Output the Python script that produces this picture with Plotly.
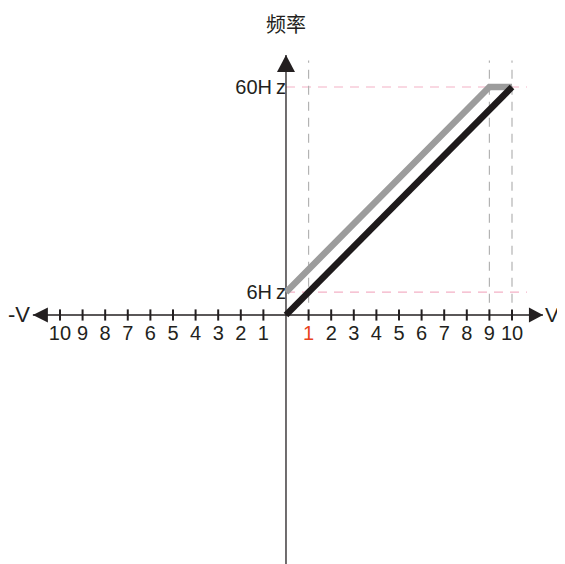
import plotly.graph_objects as go

# chart values
volt_black = [0, 10]
freq_black = [0, 60]
volt_gray = [0, 9, 10]
freq_gray = [6, 60, 60]

freq_marks = [6, 60]
freq_labels = ["6H\u2009z", "60H\u2009z"]
volt_marks = [1, 9, 10]

x_tick_vals = [-10, -9, -8, -7, -6, -5, -4, -3, -2, -1, 1, 2, 3, 4, 5, 6, 7, 8, 9, 10]
x_tick_text = ["10", "9", "8", "7", "6", "5", "4", "3", "2", "1",
               "<span style='color:#e8431c'>1</span>", "2", "3", "4", "5", "6", "7", "8", "9", "10"]

title_text = "频率"
neg_label = "-V"
pos_label = "V"

# page body has an 8px margin, so the figure is a bit smaller than the window
W, H = 557, 556
X_RANGE = [-12.30, 12.345]
Y_RANGE = [-65.53, 80.79]
AX_X = [-11.2, 11.37]
AX_Y = [Y_RANGE[0], 68.4]
AXIS_COL = "#231f20"
FONT = "Liberation Sans, Arial, sans-serif"

fig = go.Figure()

# guide lines
for f in freq_marks:
    fig.add_shape(type="line", x0=0, x1=10.66, y0=f, y1=f,
                  line=dict(color="#f4b1c6", width=1.2, dash="9px,7px"), layer="below")
for v in volt_marks:
    fig.add_shape(type="line", x0=v, x1=v, y0=3.2, y1=67,
                  line=dict(color="#b3b3b3", width=1.2, dash="9px,7px"), layer="below")

# axes lines
fig.add_trace(go.Scatter(x=AX_X, y=[0, 0], mode="lines",
                         line=dict(color=AXIS_COL, width=1.3), hoverinfo="skip"))
fig.add_trace(go.Scatter(x=[0, 0], y=AX_Y, mode="lines",
                         line=dict(color=AXIS_COL, width=1.3), hoverinfo="skip"))
fig.add_trace(go.Scatter(x=x_tick_vals, y=[0] * len(x_tick_vals), mode="markers",
                         marker=dict(symbol="line-ns", size=8,
                                     line=dict(color=AXIS_COL, width=2)),
                         hoverinfo="skip"))

# data lines
fig.add_trace(go.Scatter(x=volt_gray, y=freq_gray, mode="lines",
                         line=dict(color="#9c9c9c", width=6.5)))
fig.add_trace(go.Scatter(x=volt_black, y=freq_black, mode="lines",
                         line=dict(color="#1e1a1b", width=6.5)))

# arrow heads
arrow = dict(type="path", xsizemode="pixel", ysizemode="pixel",
             fillcolor=AXIS_COL, line=dict(width=0))
fig.add_shape(**arrow, xanchor=AX_X[0], yanchor=0, path="M0,0 L15,7.5 L15,-7.5 Z")
fig.add_shape(**arrow, xanchor=AX_X[1], yanchor=0, path="M0,0 L-14,7.5 L-14,-7.5 Z")
fig.add_shape(**arrow, xanchor=0, yanchor=AX_Y[1], path="M0,0 L-9,-17 L9,-17 Z")

fig.add_annotation(x=0, xref="x", y=1 - 15 / H, yref="paper", text=title_text,
                   yanchor="middle", showarrow=False,
                   font=dict(family="Noto Sans CJK SC", size=20, color="#231f20"))
fig.add_annotation(x=AX_X[0], xref="x", xshift=-1, y=0, yref="y", text=neg_label,
                   xanchor="right", showarrow=False, font=dict(family=FONT, size=22, color="#231f20"))
fig.add_annotation(x=AX_X[1], xref="x", xshift=0, y=0, yref="y", text=pos_label,
                   xanchor="left", showarrow=False, font=dict(family=FONT, size=21, color="#231f20"))

fig.update_layout(
    width=W, height=H, margin=dict(l=0, r=0, t=0, b=0),
    paper_bgcolor="white", plot_bgcolor="white", showlegend=False,
    xaxis=dict(range=X_RANGE, showgrid=False, zeroline=False, showline=False,
               anchor="free", position=-Y_RANGE[0] / (Y_RANGE[1] - Y_RANGE[0]),
               tickvals=x_tick_vals, ticktext=x_tick_text, ticks="", ticklabelstandoff=4,
               tickfont=dict(family=FONT, size=20, color="#231f20")),
    yaxis=dict(range=Y_RANGE, showgrid=False, zeroline=False, showline=False,
               anchor="free", position=-X_RANGE[0] / (X_RANGE[1] - X_RANGE[0]),
               tickvals=freq_marks, ticktext=freq_labels, ticks="",
               tickfont=dict(family=FONT, size=20, color="#231f20")),
)

fig.write_html("out.html")
